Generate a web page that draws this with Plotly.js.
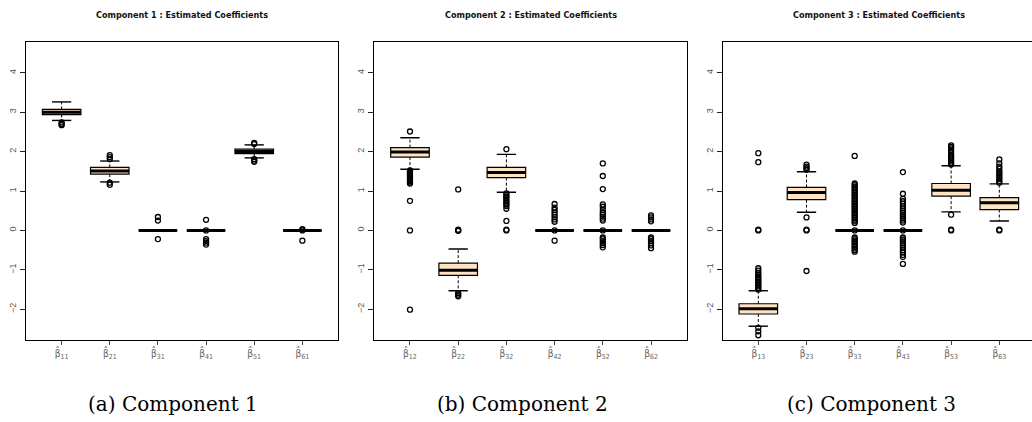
<!DOCTYPE html>
<html>
<head>
<meta charset="utf-8">
<script src="https://cdn.plot.ly/plotly-3.0.1.min.js"></script>
<style>html,body{margin:0;padding:0;background:#fff;}#chart{width:1032px;height:422px;}</style>
</head>
<body>
<div id="chart"></div>
<script>
// ---------- data ----------
const titles = ["Component 1 : Estimated Coefficients", "Component 2 : Estimated Coefficients", "Component 3 : Estimated Coefficients"];
const captions = ["(a) Component 1", "(b) Component 2", "(c) Component 3"];
const yTicks = [-2, -1, 0, 1, 2, 3, 4];

const cats1 = ["11", "21", "31", "41", "51", "61"];
const q1_1 = [2.94, 1.43, 0, 0, 1.95, 0];
const med_1 = [3.00, 1.51, 0, 0, 2.00, 0];
const q3_1 = [3.07, 1.60, 0, 0, 2.06, 0];
const lo_1 = [2.79, 1.23, 0, 0, 1.84, 0];
const hi_1 = [3.26, 1.76, 0, 0, 2.17, 0];
const out_1 = [
  [2.74, 2.70, 2.67],
  [1.91, 1.86, 1.81, 1.21, 1.16],
  [0.34, 0.25, -0.22],
  [0.27, 0.0, -0.22, -0.27, -0.31, -0.36],
  [2.22, 2.19, 1.81, 1.77, 1.74],
  [0.03, 0.0, -0.26]
];

const cats2 = ["12", "22", "32", "42", "52", "62"];
const q1_2 = [1.86, -1.14, 1.34, 0, 0, 0];
const med_2 = [1.99, -1.01, 1.47, 0, 0, 0];
const q3_2 = [2.10, -0.83, 1.60, 0, 0, 0];
const lo_2 = [1.55, -1.53, 0.97, 0, 0, 0];
const hi_2 = [2.35, -0.47, 1.93, 0, 0, 0];
const out_2 = [
  [2.51, 1.52, 1.49, 1.46, 1.43, 1.40, 1.37, 1.34, 1.31, 1.28, 1.25, 1.22, 1.19, 0.75, 0.0, -2.01],
  [1.04, 0.02, 0.0, -0.01, -1.59, -1.63, -1.67],
  [2.06, 0.94, 0.90, 0.86, 0.82, 0.78, 0.74, 0.70, 0.66, 0.62, 0.55, 0.24, 0.02, 0.0],
  [0.67, 0.58, 0.52, 0.46, 0.40, 0.34, 0.28, 0.22, 0.0, -0.26],
  [1.70, 1.38, 1.05, 0.66, 0.60, 0.52, 0.45, 0.40, 0.35, 0.30, 0.25, 0.0, -0.18, -0.22, -0.27, -0.32, -0.37, -0.43],
  [0.38, 0.33, 0.28, 0.23, -0.18, -0.22, -0.27, -0.32, -0.38, -0.45]
];

const cats3 = ["13", "23", "33", "43", "53", "63"];
const q1_3 = [-2.12, 0.78, 0, 0, 0.87, 0.53];
const med_3 = [-1.99, 0.96, 0, 0, 1.02, 0.70];
const q3_3 = [-1.86, 1.09, 0, 0, 1.19, 0.83];
const lo_3 = [-2.43, 0.46, 0, 0, 0.47, 0.24];
const hi_3 = [-1.53, 1.49, 0, 0, 1.64, 1.18];
const out_3 = [
  [1.96, 1.73, 0.02, 0.0, -0.96, -1.02, -1.08, -1.13, -1.18, -1.22, -1.26, -1.30, -1.34, -1.38, -1.42, -1.46, -1.50, -2.47, -2.56, -2.66],
  [1.67, 1.62, 1.58, 1.54, 0.33, 0.02, 0.0, -1.03],
  [1.89, 1.19, 1.15, 1.11, 1.07, 1.03, 0.99, 0.95, 0.91, 0.87, 0.83, 0.79, 0.75, 0.71, 0.67, 0.63, 0.59, 0.55, 0.51, 0.47, 0.43, 0.39, 0.35, 0.31, 0.27, 0.23, 0.19, 0.0, -0.18, -0.22, -0.26, -0.30, -0.34, -0.38, -0.42, -0.46, -0.50, -0.54],
  [1.48, 0.93, 0.80, 0.74, 0.68, 0.62, 0.56, 0.50, 0.45, 0.40, 0.35, 0.30, 0.25, 0.20, 0.0, -0.18, -0.23, -0.28, -0.33, -0.38, -0.44, -0.50, -0.56, -0.62, -0.67, -0.85],
  [2.16, 2.12, 2.08, 2.02, 1.96, 1.91, 1.87, 1.83, 1.79, 1.75, 1.71, 1.67, 0.40, 0.02, 0.0],
  [1.80, 1.70, 1.62, 1.56, 1.50, 1.45, 1.40, 1.35, 1.30, 1.25, 1.21, 0.02, 0.0]
];

// ---------- build ----------
const W = 1032, H = 422;
const panels = [
  {cats: cats1, q1: q1_1, med: med_1, q3: q3_1, lo: lo_1, hi: hi_1, out: out_1, px: [26, 338], xr: [-0.74, 5.74], mirrorY: true, cap: 173, tc: 182},
  {cats: cats2, q1: q1_2, med: med_2, q3: q3_2, lo: lo_2, hi: hi_2, out: out_2, px: [374.3, 686.7], xr: [-0.74, 5.74], mirrorY: true, cap: 522.5, tc: 530.5},
  {cats: cats3, q1: q1_3, med: med_3, q3: q3_3, lo: lo_3, hi: hi_3, out: out_3, px: [723.3, 1032], xr: [-0.726, 5.678], mirrorY: false, cap: 871, tc: 879}
];
const yTop = 42, yBot = 340;
const yRange = [-2.78, 4.78];

const boxTraces = [], lineTraces = [];
const layout = {
  width: W, height: H,
  margin: {l: 0, r: 0, t: 0, b: 0},
  paper_bgcolor: '#fff', plot_bgcolor: '#fff',
  showlegend: false,
  annotations: []
};

panels.forEach((p, k) => {
  const sfx = k === 0 ? '' : String(k + 1);
  const xa = 'x' + sfx, ya = 'y' + sfx;
  const idx = p.cats.map((_, i) => i);

  boxTraces.push({
    type: 'box', xaxis: xa, yaxis: ya,
    x: idx, q1: p.q1, median: p.med, q3: p.q3,
    lowerfence: p.q1, upperfence: p.q3,
    width: 0.8, whiskerwidth: 0,
    fillcolor: '#FFE4C4', line: {color: '#000', width: 1.2},
    boxpoints: false, hoverinfo: 'skip'
  });

  const wx = [], wy = [], cx = [], cy = [], mx = [], my = [], ox = [], oy = [];
  idx.forEach(i => {
    if (p.hi[i] > p.q3[i]) { wx.push(i, i, null); wy.push(p.q3[i], p.hi[i], null); cx.push(i - 0.2, i + 0.2, null); cy.push(p.hi[i], p.hi[i], null); }
    if (p.lo[i] < p.q1[i]) { wx.push(i, i, null); wy.push(p.q1[i], p.lo[i], null); cx.push(i - 0.2, i + 0.2, null); cy.push(p.lo[i], p.lo[i], null); }
    mx.push(i - 0.4, i + 0.4, null); my.push(p.med[i], p.med[i], null);
    p.out[i].forEach(v => { ox.push(i); oy.push(v); });
  });
  lineTraces.push({type: 'scatter', mode: 'lines', xaxis: xa, yaxis: ya, x: wx, y: wy,
    line: {color: '#000', width: 1, dash: '3px,2px'}, hoverinfo: 'skip'});
  lineTraces.push({type: 'scatter', mode: 'lines', xaxis: xa, yaxis: ya, x: cx, y: cy,
    line: {color: '#000', width: 1.4}, hoverinfo: 'skip'});
  lineTraces.push({type: 'scatter', mode: 'lines', xaxis: xa, yaxis: ya, x: mx, y: my,
    line: {color: '#000', width: 3}, hoverinfo: 'skip'});
  lineTraces.push({type: 'scatter', mode: 'markers', xaxis: xa, yaxis: ya, x: ox, y: oy,
    marker: {symbol: 'circle-open', size: 5, color: '#000', line: {width: 1.3, color: '#000'}}, hoverinfo: 'skip'});

  layout['xaxis' + sfx] = {
    domain: [p.px[0] / W, Math.min(1, p.px[1] / W)], anchor: ya,
    range: p.xr, showgrid: false, zeroline: false,
    showline: true, linecolor: '#000', linewidth: 1.3, mirror: true,
    ticks: 'outside', ticklen: 4, tickwidth: 1, tickcolor: '#444',
    tickvals: idx,
    ticktext: p.cats.map(c => "\u03B2\u0302<sub>" + c + "</sub>"),
    tickfont: {family: 'DejaVu Sans Condensed, DejaVu Sans, sans-serif', size: 10, color: '#666'},
    fixedrange: true
  };
  layout['yaxis' + sfx] = {
    domain: [1 - yBot / H, 1 - yTop / H], anchor: xa,
    range: yRange, showgrid: false, zeroline: false,
    showline: true, linecolor: '#000', linewidth: 1.3, mirror: p.mirrorY,
    ticks: 'outside', ticklen: 5, tickwidth: 1, tickcolor: '#222',
    tickvals: yTicks, ticktext: yTicks.map(v => v < 0 ? '\u2212' + Math.abs(v) : String(v)),
    tickangle: -90,
    tickfont: {family: 'Liberation Sans, Arial, sans-serif', size: 9, color: '#555'},
    fixedrange: true
  };

  layout.annotations.push({
    xref: 'paper', yref: 'paper', x: p.tc / W, y: 1 - 15 / H,
    xanchor: 'center', yanchor: 'middle', showarrow: false,
    text: '<b>' + titles[k] + '</b>',
    font: {family: 'Liberation Sans Narrow, DejaVu Sans Condensed, sans-serif', size: 9, color: '#111'}
  });
  layout.annotations.push({
    xref: 'paper', yref: 'paper', x: p.cap / W, y: 1 - 404 / H,
    xanchor: 'center', yanchor: 'middle', showarrow: false,
    text: captions[k],
    font: {family: 'DejaVu Serif, Liberation Serif, serif', size: 20, color: '#000'}
  });
});

Plotly.newPlot('chart', boxTraces.concat(lineTraces), layout, {staticPlot: true, displayModeBar: false});
</script>
</body>
</html>
